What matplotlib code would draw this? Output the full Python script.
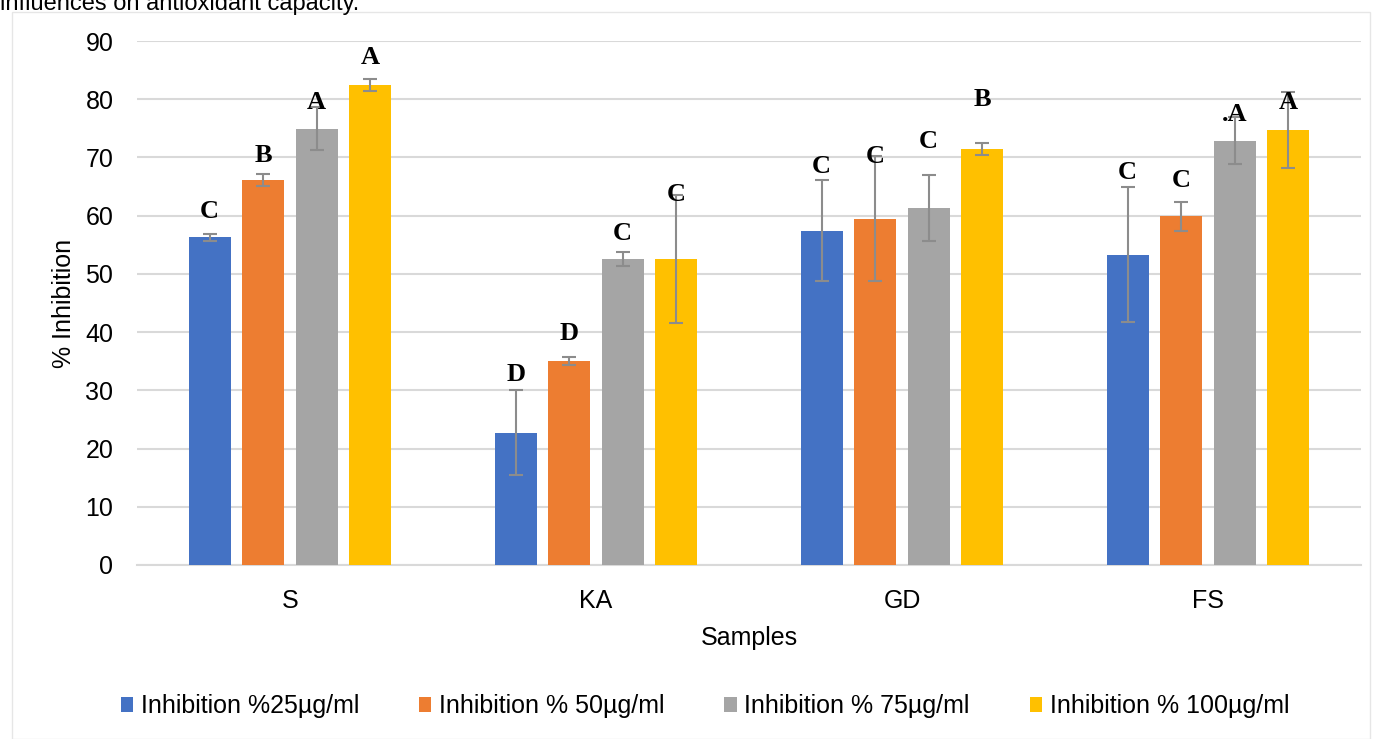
import numpy as np
import matplotlib
matplotlib.use("Agg")
import matplotlib.pyplot as plt

# Dati
samples = ["S", "KA", "GD", "FS"]
series = ["Inhibition %25µg/ml", "Inhibition % 50µg/ml",
          "Inhibition % 75µg/ml", "Inhibition % 100µg/ml"]
colors = ["#4472C4", "#ED7D31", "#A5A5A5", "#FFC000"]

inh_25 = [56.3, 22.7, 57.4, 53.3]
inh_50 = [66.1, 35.0, 59.5, 59.9]
inh_75 = [74.9, 52.6, 61.3, 72.9]
inh_100 = [82.4, 52.6, 71.5, 74.7]

err_25 = [0.6, 7.3, 8.7, 11.6]
err_50 = [1.0, 0.7, 10.8, 2.5]
err_75 = [3.7, 1.2, 5.6, 4.0]
err_100 = [1.0, 11.0, 1.0, 6.5]

# lettere di significatività e loro altezza
letters_25 = ["C", "D", "C", "C"]
letters_50 = ["B", "D", "C", "C"]
letters_75 = ["A", "C", "C", ".A"]
letters_100 = ["A", "C", "B", "A"]
lab_y_25 = [60.8, 32.8, 68.4, 67.5]
lab_y_50 = [70.4, 39.7, 70.2, 66.1]
lab_y_75 = [79.4, 57.0, 72.7, 77.3]
lab_y_100 = [87.1, 63.7, 79.9, 79.4]

values = [inh_25, inh_50, inh_75, inh_100]
errors = [err_25, err_50, err_75, err_100]
letters = [letters_25, letters_50, letters_75, letters_100]
lab_y = [lab_y_25, lab_y_50, lab_y_75, lab_y_100]

plt.rcParams['font.family'] = ['Liberation Sans', 'DejaVu Sans']

fig = plt.figure(figsize=(13.74, 7.39), dpi=100)
ax = fig.add_axes([0.0997, 0.2355, 0.8908, 0.709])

x = np.arange(len(samples))
step = 0.175
width = 0.137

for i in range(4):
    pos = x + (i - 1.5) * step
    ax.bar(pos, values[i], width, color=colors[i], label=series[i], zorder=3)
    ax.errorbar(pos, values[i], yerr=errors[i], fmt="none", ecolor="#8c8c8c",
                elinewidth=1.5, capsize=5, capthick=1.5, zorder=4)
    for j in range(len(samples)):
        ax.text(pos[j], lab_y[i][j], letters[i][j], ha="center", va="center",
                fontsize=19, fontweight="bold", family="Liberation Serif", zorder=5)

ax.set_xlim(-0.5, 3.5)
ax.set_ylim(0, 90)
ax.set_yticks(np.arange(0, 91, 10))
ax.set_xticks(x)
ax.set_xticklabels(samples)
ax.tick_params(axis="both", length=0, labelsize=18)
ax.tick_params(axis="y", pad=17)
ax.tick_params(axis="x", pad=17)
ax.grid(axis="y", color="#d9d9d9", linewidth=1.5, zorder=0)
for s in ["top", "right", "left"]:
    ax.spines[s].set_visible(False)
ax.spines["bottom"].set_color("#d9d9d9")
ax.spines["bottom"].set_linewidth(1.5)

ax.set_xlabel("Samples", fontsize=18, labelpad=10)
ax.set_ylabel("% Inhibition", fontsize=18, labelpad=7)

ax.legend(loc="center", bbox_to_anchor=(0.464, -0.27), ncol=4, frameon=False,
          fontsize=18, handlelength=0.5, handleheight=0.5, handletextpad=0.3,
          columnspacing=2.4)

# bordo del grafico e testo tagliato in alto
fig.patches.append(plt.Rectangle((0.009, 0.0), 0.988, 0.984, transform=fig.transFigure,
                                 fill=False, edgecolor="#e6e6e6", linewidth=1))
fig.text(0.0, 0.995, "influences on antioxidant capacity.", fontsize=17, va="center")

fig.savefig("out.png", dpi=100)
